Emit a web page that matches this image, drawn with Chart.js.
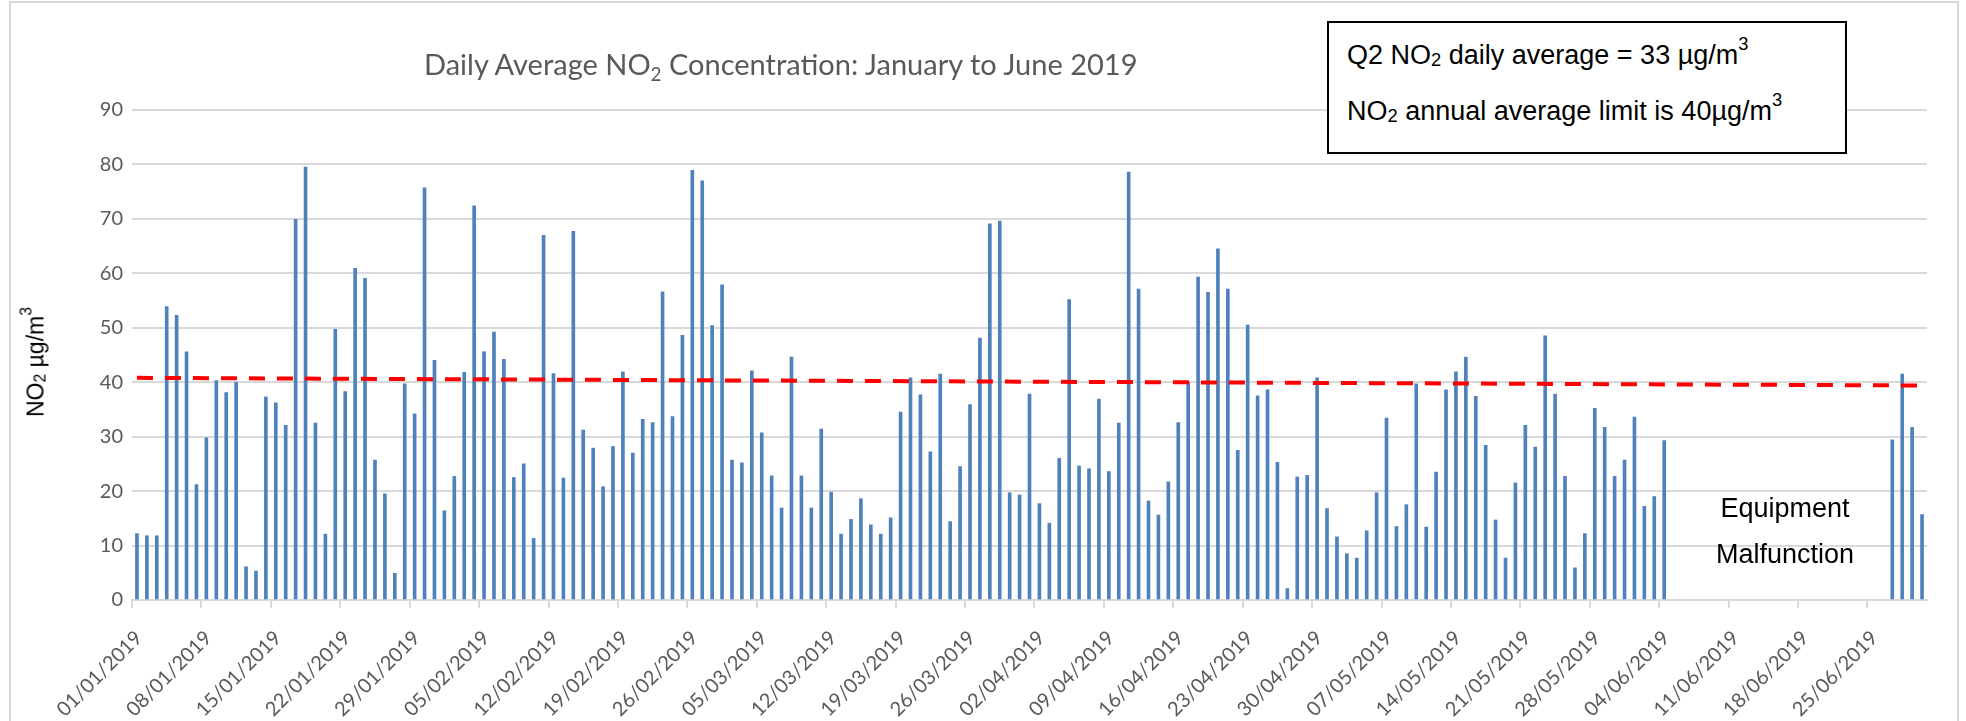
<!DOCTYPE html>
<html>
<head>
<meta charset="utf-8">
<title>Daily Average NO2 Concentration</title>
<script src="https://cdn.jsdelivr.net/npm/chart.js@4.4.1/dist/chart.umd.min.js"></script>
<style>
  body { margin: 0; background: #fff; overflow: hidden; }
  #wrap { position: relative; width: 1966px; height: 721px; }
  #frame { position: absolute; left: 9px; top: 1px; width: 1946px; height: 760px; border: 2px solid #d9d9d9; }
  canvas { position: absolute; left: 0; top: 0; }
  .txt { position: absolute; white-space: nowrap; }
  #title { left: 424px; top: 46px; font-family: Lato, sans-serif; font-size: 29px; line-height: 35px; color: #595959; }
  #title sub { font-size: 0.65em; vertical-align: baseline; position: relative; top: 0.3em; line-height: 0; }
  #note { position: absolute; left: 1327px; top: 21px; width: 498px; height: 129px; padding-left: 18px;
          border: 2px solid #000; background: #fff; font-family: "Liberation Sans", Arial, sans-serif;
          font-size: 27px; line-height: 56px; color: #000; }
  #note .l1 { padding-top: 4px; }
  sub.s, sup.s { font-size: 0.68em; vertical-align: baseline; position: relative; line-height: 0; }
  sub.s { top: 0.1em; }
  sup.s { top: -0.75em; }
  #ylab { left: 36px; top: 362px; transform: translate(-50%, -50%) rotate(-90deg);
          font-family: "Liberation Sans", Arial, sans-serif; font-size: 23px; line-height: 23px; color: #000; }
  #gap { left: 1685px; top: 485px; width: 200px; text-align: center;
         font-family: "Liberation Sans", Arial, sans-serif; font-size: 27px; line-height: 46px; color: #000; }
</style>
</head>
<body>
<div id="wrap">
  <div id="frame"></div>
  <canvas id="myChart" width="1966" height="721"></canvas>
  <div class="txt" id="title">Daily Average NO<sub>2</sub> Concentration: January to June 2019</div>
  <div id="note">
    <div class="l1">Q2 NO<sub class="s">2</sub> daily average = 33 µg/m<sup class="s">3</sup></div>
    <div>NO<sub class="s">2</sub> annual average limit is 40µg/m<sup class="s">3</sup></div>
  </div>
  <div class="txt" id="ylab">NO<sub class="s">2</sub> µg/m<sup class="s">3</sup></div>
  <div class="txt" id="gap">Equipment<br>Malfunction</div>
</div>
<script>
// daily NO2 averages (ug/m3), one array per month
const jan = [12.2, 11.8, 11.8, 53.9, 52.3, 45.6, 21.2, 29.8, 40.3, 38.1, 40.0, 6.1, 5.3, 37.3, 36.2, 32.1,
  69.9, 79.5, 32.5, 12.1, 49.7, 38.3, 60.9, 59.1, 25.7, 19.5, 4.9, 39.7, 34.2, 75.7, 44.0];
const feb = [16.4, 22.7, 41.8, 72.4, 45.6, 49.2, 44.2, 22.5, 25.0, 11.3, 67.0, 41.6, 22.4, 67.7, 31.2, 27.9,
  20.8, 28.2, 41.9, 27.0, 33.2, 32.6, 56.6, 33.7, 48.6, 78.9, 77.0, 50.4];
const mar = [57.9, 25.7, 25.2, 42.1, 30.7, 22.8, 16.9, 44.6, 22.8, 16.9, 31.4, 19.8, 12.1, 14.8, 18.6, 13.8,
  12.1, 15.1, 34.5, 40.8, 37.7, 27.2, 41.5, 14.4, 24.5, 35.9, 48.1, 69.1, 69.6, 19.7, 19.3];
const apr = [37.8, 17.7, 14.1, 26.0, 55.2, 24.6, 24.1, 36.9, 23.6, 32.5, 78.6, 57.1, 18.2, 15.6, 21.7, 32.6,
  40.0, 59.3, 56.5, 64.5, 57.1, 27.5, 50.5, 37.5, 38.6, 25.3, 2.1, 22.6, 22.9, 40.8];
const may = [16.8, 11.6, 8.5, 7.7, 12.7, 19.7, 33.4, 13.5, 17.5, 39.7, 13.4, 23.5, 38.6, 41.9, 44.6, 37.4,
  28.4, 14.7, 7.7, 21.5, 32.1, 28.1, 48.5, 37.8, 22.7, 5.9, 12.2, 35.2, 31.7, 22.7, 25.7];
// 5th - 26th June missing (equipment malfunction)
const jun = [33.6, 17.2, 19.0, 29.3, null, null, null, null, null, null, null, null, null, null, null,
  null, null, null, null, null, null, null, null, null, null, null, 29.4, 41.5, 31.7, 15.7];

const no2 = jan.concat(feb, mar, apr, may, jun);

// red dashed limit / trend line, value at first and last day
const limitStart = 40.8;
const limitEnd = 39.4;

const yTicks = [0, 10, 20, 30, 40, 50, 60, 70, 80, 90];

// category labels dd/mm/yyyy starting 01/01/2019
const firstDay = Date.UTC(2019, 0, 1);
const days = no2.map((v, i) => {
    const d = new Date(firstDay + i * 86400000);
    const dd = String(d.getUTCDate()).padStart(2, '0');
    const mm = String(d.getUTCMonth() + 1).padStart(2, '0');
    return dd + '/' + mm + '/' + d.getUTCFullYear();
});

const grey = '#595959';
const gridCol = '#d9d9d9';

const ctx = document.getElementById('myChart').getContext('2d');
const myChart = new Chart(ctx, {
    data: {
        labels: days,
        datasets: [{
            type: 'line',
            label: 'limit',
            data: [{ x: days[0], y: limitStart }, { x: days[days.length - 1], y: limitEnd }],
            borderColor: '#ff0000',
            borderWidth: 4,
            borderDash: [16, 12],
            pointRadius: 0,
            order: 0
        }, {
            type: 'bar',
            label: 'NO2',
            data: no2,
            backgroundColor: '#4f81bd',
            barThickness: 3,
            order: 1
        }]
    },
    options: {
        responsive: false,
        devicePixelRatio: 1,
        animation: false,
        layout: { padding: { top: 110, right: 39, left: 0, bottom: 0 } },
        plugins: {
            legend: { display: false },
            tooltip: { enabled: false },
            title: { display: false }
        },
        scales: {
            x: {
                type: 'category',
                offset: true,
                afterFit: (s) => { s.height = 121; },
                border: { display: true, color: gridCol, width: 2 },
                grid: {
                    offset: true,
                    drawOnChartArea: false,
                    drawTicks: true,
                    tickLength: 8,
                    lineWidth: 2,
                    color: (c) => (c.index % 7 === 0 ? gridCol : 'rgba(0,0,0,0)')
                },
                ticks: {
                    autoSkip: false,
                    minRotation: 45,
                    maxRotation: 45,
                    padding: 18,
                    labelOffset: 2,
                    color: grey,
                    font: { family: 'Lato', size: 20 },
                    callback: function (val, i) { return i % 7 === 0 ? this.getLabelForValue(val) : ''; }
                }
            },
            y: {
                min: 0,
                max: 90,
                afterFit: (s) => { s.width = 132; },
                afterBuildTicks: (s) => { s.ticks = yTicks.map(v => ({ value: v })); },
                border: { display: false },
                grid: { color: gridCol, lineWidth: 2, drawTicks: false },
                ticks: {
                    padding: 9,
                    color: grey,
                    font: { family: 'Lato', size: 20 }
                }
            }
        }
    }
});
</script>
</body>
</html>
